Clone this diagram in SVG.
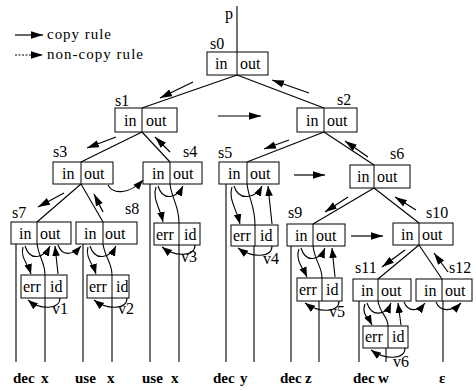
<svg xmlns="http://www.w3.org/2000/svg" width="476" height="390" viewBox="0 0 476 390" font-family="'Liberation Serif', 'DejaVu Serif', serif">
<defs>
<marker id="ah" markerWidth="14" markerHeight="9" refX="12" refY="4" orient="auto" markerUnits="userSpaceOnUse"><path d="M0,0.3 L12,4 L0,7.7 z" fill="#000"/></marker>
<marker id="as" markerWidth="12" markerHeight="9" refX="10" refY="4" orient="auto" markerUnits="userSpaceOnUse"><path d="M0,0.2 L10,4 L0,7.8 z" fill="#000"/></marker>
</defs>
<style>
.box{fill:#fff;stroke:#000;stroke-width:1}
.dv{stroke:#000;stroke-width:1}
.t{font-family:'Liberation Serif','DejaVu Serif',serif;font-size:16px;fill:#000}
.lf{font-family:'Liberation Serif','DejaVu Serif',serif;font-size:15px;font-weight:bold;fill:#000}
.e{fill:none;stroke:#000;stroke-width:1.1}
.a{fill:none;stroke:#000;stroke-width:1.2;marker-end:url(#ah)}
.s{fill:none;stroke:#000;stroke-width:1.1;marker-end:url(#as)}
.d{stroke-dasharray:2,1.5}
</style>
<rect width="476" height="390" fill="#fff"/>

<g id="legend">
<line class="a" x1="15" y1="35" x2="43" y2="35"/>
<text class="t" x="47" y="39" style="font-size:15px" textLength="64">copy rule</text>
<line class="a d" x1="15" y1="55" x2="43" y2="55"/>
<text class="t" x="47" y="59" style="font-size:15px" textLength="96">non-copy rule</text>
</g>

<g id="connectors">
<line class="e" x1="237" y1="6" x2="237" y2="52"/>
<line class="e" x1="237" y1="75" x2="142" y2="108"/>
<line class="e" x1="237" y1="75" x2="324" y2="108"/>
<line class="e" x1="142" y1="132" x2="81" y2="162"/>
<line class="e" x1="142" y1="132" x2="170" y2="162"/>
<line class="e" x1="324" y1="132" x2="247" y2="162"/>
<line class="e" x1="324" y1="132" x2="374" y2="165"/>
<line class="e" x1="81" y1="184" x2="37" y2="222"/>
<line class="e" x1="81" y1="184" x2="103" y2="222"/>
<line class="e" x1="374" y1="188" x2="313" y2="224"/>
<line class="e" x1="374" y1="188" x2="419" y2="223"/>
<line class="e" x1="419" y1="245" x2="378" y2="279"/>
<line class="e" x1="419" y1="245" x2="442" y2="279"/>
<line class="e" x1="16" y1="244" x2="16" y2="362"/>
<line class="e" x1="45" y1="298" x2="45" y2="362"/>
<line class="e" x1="83" y1="244" x2="83" y2="362"/>
<line class="e" x1="112" y1="298" x2="112" y2="362"/>
<line class="e" x1="150" y1="184" x2="150" y2="362"/>
<line class="e" x1="179" y1="245" x2="179" y2="362"/>
<line class="e" x1="226" y1="184" x2="226" y2="362"/>
<line class="e" x1="254" y1="246" x2="254" y2="362"/>
<line class="e" x1="291" y1="246" x2="291" y2="362"/>
<line class="e" x1="319" y1="301" x2="319" y2="362"/>
<line class="e" x1="359" y1="301" x2="359" y2="362"/>
<line class="e" x1="386" y1="348" x2="386" y2="362"/>
<line class="e" x1="443" y1="301" x2="443" y2="362"/>
<path class="e" d="M37,244 C39,258 45,262 45,275"/>
<path class="e" d="M103,244 C105,258 112,262 112,275"/>
<path class="e" d="M170,184 C172,200 179,205 179,223"/>
<path class="e" d="M247,184 C249,200 255,206 255,225"/>
<path class="e" d="M313,246 C315,262 322,266 322,278"/>
<path class="e" d="M378,301 C380,314 388,316 388,326"/>
<line class="a" x1="193" y1="82" x2="160" y2="98"/>
<line class="a" x1="309" y1="93" x2="272" y2="80"/>
<line class="a" x1="116" y1="137" x2="87" y2="148"/>
<line class="a" x1="170" y1="152" x2="155" y2="137"/>
<line class="a" x1="289" y1="140" x2="264" y2="149"/>
<line class="a" x1="368" y1="157" x2="345" y2="141"/>
<line class="a" x1="64" y1="193" x2="38" y2="207"/>
<line class="a" x1="103" y1="212" x2="94" y2="194"/>
<line class="a" x1="348" y1="197" x2="325" y2="212"/>
<line class="a" x1="416" y1="210" x2="395" y2="197"/>
<line class="a" x1="405" y1="250" x2="382" y2="267"/>
<line class="a" x1="448" y1="272" x2="434" y2="253"/>
<line class="a" x1="218" y1="116" x2="261" y2="116"/>
<line class="a" x1="294" y1="175" x2="325" y2="175"/>
<line class="a" x1="351" y1="236" x2="383" y2="236"/>
<path class="s" d="M58,245 C62,256 72,256 81,246"/>
<path class="s" d="M108,185 C113,195 130,194 143,180"/>
<path class="s" d="M404,302 C408,312 418,312 425,303"/>
<path class="s" d="M436,302 C440,312 452,312 461,303"/>
<path class="s" d="M23,247 C20,257 28,264 31,274"/>
<path class="s" d="M25,246 C30,262 44,258 50,246"/>
<path class="s" d="M58,274 L55,246"/>
<path class="s" d="M60,298 C60,310 40,310 28,300"/>
<path class="s" d="M88,247 C85,257 93,264 96,274"/>
<path class="s" d="M90,246 C95,262 110,258 116,246"/>
<path class="s" d="M127,298 C127,310 107,310 94,300"/>
<path class="s" d="M156,187 C152,198 160,208 163,222"/>
<path class="s" d="M158,186 C163,202 177,198 183,186"/>
<path class="s" d="M195,245 C195,257 175,257 162,247"/>
<path class="s" d="M232,187 C228,198 236,208 240,224"/>
<path class="s" d="M234,186 C239,202 256,198 262,186"/>
<path class="s" d="M272,224 L268,186"/>
<path class="s" d="M272,246 C272,258 252,258 238,248"/>
<path class="s" d="M299,249 C295,260 303,268 307,277"/>
<path class="s" d="M301,248 C306,264 320,260 325,248"/>
<path class="s" d="M335,277 L332,248"/>
<path class="s" d="M339,301 C339,313 319,313 305,303"/>
<path class="s" d="M365,304 C361,314 369,319 372,325"/>
<path class="s" d="M367,303 C372,318 386,315 391,303"/>
<path class="s" d="M401,325 L398,303"/>
<path class="s" d="M405,348 C405,360 385,360 371,350"/>
</g>

<text class="t" x="225" y="19">p</text>

<g id="s0"><rect class="box" x="207" y="52" width="61" height="23"/><line class="dv" x1="237" y1="52" x2="237" y2="75"/><text class="t" x="215" y="69">in</text><text class="t" x="240" y="69">out</text><text class="t" x="210" y="49">s0</text></g>
<g id="s1"><rect class="box" x="115" y="108" width="62" height="24"/><line class="dv" x1="142" y1="108" x2="142" y2="132"/><text class="t" x="124" y="126">in</text><text class="t" x="146" y="126">out</text><text class="t" x="115" y="106">s1</text></g>
<g id="s2"><rect class="box" x="297" y="108" width="60" height="24"/><line class="dv" x1="324" y1="108" x2="324" y2="132"/><text class="t" x="306" y="126">in</text><text class="t" x="327" y="126">out</text><text class="t" x="337" y="105">s2</text></g>
<g id="s3"><rect class="box" x="53" y="162" width="60" height="22"/><line class="dv" x1="81" y1="162" x2="81" y2="184"/><text class="t" x="62" y="179">in</text><text class="t" x="84" y="179">out</text><text class="t" x="53" y="157">s3</text></g>
<g id="s4"><rect class="box" x="143" y="162" width="59" height="22"/><line class="dv" x1="170" y1="162" x2="170" y2="184"/><text class="t" x="152" y="179">in</text><text class="t" x="173" y="179">out</text><text class="t" x="183" y="157">s4</text></g>
<g id="s5"><rect class="box" x="219" y="162" width="60" height="22"/><line class="dv" x1="247" y1="162" x2="247" y2="184"/><text class="t" x="228" y="179">in</text><text class="t" x="250" y="179">out</text><text class="t" x="218" y="158">s5</text></g>
<g id="s6"><rect class="box" x="350" y="165" width="60" height="23"/><line class="dv" x1="374" y1="165" x2="374" y2="188"/><text class="t" x="357" y="182">in</text><text class="t" x="377" y="182">out</text><text class="t" x="390" y="159">s6</text></g>
<g id="s7"><rect class="box" x="11" y="222" width="60" height="22"/><line class="dv" x1="37" y1="222" x2="37" y2="244"/><text class="t" x="19" y="239">in</text><text class="t" x="40" y="239">out</text><text class="t" x="12" y="218">s7</text></g>
<g id="s8"><rect class="box" x="76" y="222" width="61" height="22"/><line class="dv" x1="103" y1="222" x2="103" y2="244"/><text class="t" x="84" y="239">in</text><text class="t" x="105" y="239">out</text><text class="t" x="125" y="214">s8</text></g>
<g id="s9"><rect class="box" x="287" y="224" width="58" height="22"/><line class="dv" x1="313" y1="224" x2="313" y2="246"/><text class="t" x="295" y="241">in</text><text class="t" x="316" y="241">out</text><text class="t" x="288" y="218">s9</text></g>
<g id="s10"><rect class="box" x="393" y="223" width="60" height="22"/><line class="dv" x1="419" y1="223" x2="419" y2="245"/><text class="t" x="401" y="240">in</text><text class="t" x="422" y="240">out</text><text class="t" x="426" y="218">s10</text></g>
<g id="s11"><rect class="box" x="353" y="279" width="58" height="22"/><line class="dv" x1="378" y1="279" x2="378" y2="301"/><text class="t" x="361" y="296">in</text><text class="t" x="381" y="296">out</text><text class="t" x="355" y="273">s11</text></g>
<g id="s12"><rect class="box" x="416" y="279" width="56" height="22"/><line class="dv" x1="442" y1="279" x2="442" y2="301"/><text class="t" x="424" y="296">in</text><text class="t" x="445" y="296">out</text><text class="t" x="449" y="273">s12</text></g>

<g id="v1"><rect class="box" x="21" y="275" width="46" height="23"/><line class="dv" x1="45" y1="275" x2="45" y2="298"/><text class="t" x="23" y="292">err</text><text class="t" x="50" y="292">id</text><text class="t" x="52" y="314">v1</text></g>
<g id="v2"><rect class="box" x="87" y="275" width="42" height="23"/><line class="dv" x1="112" y1="275" x2="112" y2="298"/><text class="t" x="89" y="292">err</text><text class="t" x="116" y="292">id</text><text class="t" x="118" y="314">v2</text></g>
<g id="v3"><rect class="box" x="154" y="223" width="46" height="22"/><line class="dv" x1="179" y1="223" x2="179" y2="245"/><text class="t" x="156" y="240">err</text><text class="t" x="184" y="240">id</text><text class="t" x="181" y="262">v3</text></g>
<g id="v4"><rect class="box" x="231" y="225" width="47" height="21"/><line class="dv" x1="255" y1="225" x2="255" y2="246"/><text class="t" x="233" y="241">err</text><text class="t" x="260" y="241">id</text><text class="t" x="263" y="264">v4</text></g>
<g id="v5"><rect class="box" x="297" y="278" width="45" height="23"/><line class="dv" x1="322" y1="278" x2="322" y2="301"/><text class="t" x="299" y="295">err</text><text class="t" x="326" y="295">id</text><text class="t" x="329" y="317">v5</text></g>
<g id="v6"><rect class="box" x="363" y="326" width="45" height="22"/><line class="dv" x1="388" y1="326" x2="388" y2="348"/><text class="t" x="365" y="342">err</text><text class="t" x="392" y="342">id</text><text class="t" x="393" y="367">v6</text></g>

<g id="leaves">
<text class="lf" x="13" y="383">dec</text>
<text class="lf" x="41" y="383">x</text>
<text class="lf" x="75" y="383">use</text>
<text class="lf" x="107" y="383">x</text>
<text class="lf" x="142" y="383">use</text>
<text class="lf" x="171" y="383">x</text>
<text class="lf" x="213" y="383">dec</text>
<text class="lf" x="240" y="383">y</text>
<text class="lf" x="280" y="383">dec</text>
<text class="lf" x="305" y="383">z</text>
<text class="lf" x="353" y="383">dec</text>
<text class="lf" x="378" y="383">w</text>
<text class="lf" x="439" y="383">ε</text>
</g>
</svg>
